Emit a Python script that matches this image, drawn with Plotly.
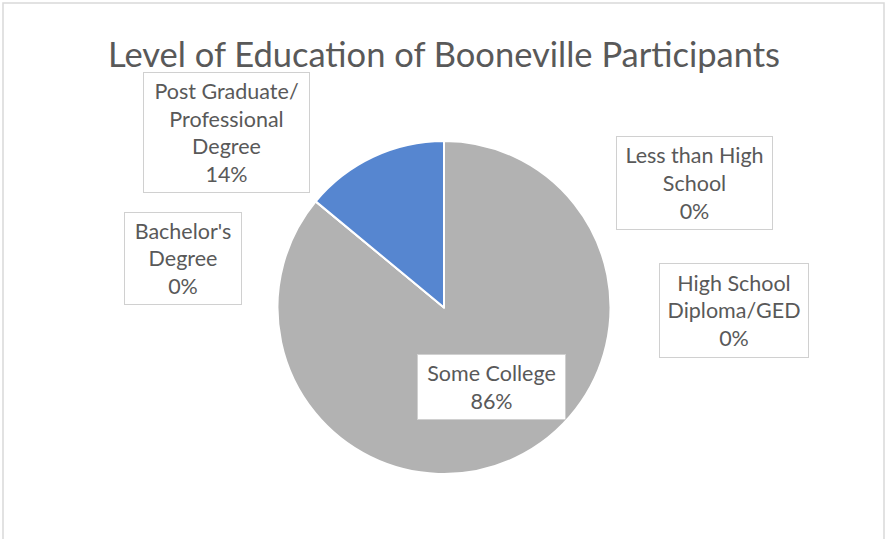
import plotly.graph_objects as go

# Education levels in clockwise order starting at 12 o'clock
categories = [
    "Less than High School",
    "High School Diploma/GED",
    "Some College",
    "Bachelor's Degree",
    "Post Graduate/Professional Degree",
]
shares = [0, 0, 86, 0, 14]
slice_colors = ["#4E7FCB", "#E07A36", "#B2B2B2", "#F2B935", "#5686D0"]

# Label text with manual line breaks for each category
label_lines = [
    "Less than High<br>School",
    "High School<br>Diploma/GED",
    "Some College",
    "Bachelor's<br>Degree",
    "Post Graduate/<br>Professional<br>Degree",
]

W, H = 888, 539
cx, cy, r = 444, 307.5, 166.5

fig = go.Figure(
    go.Pie(
        labels=categories,
        values=shares,
        sort=False,
        direction="clockwise",
        rotation=0,
        marker=dict(colors=slice_colors, line=dict(color="white", width=2)),
        textinfo="none",
        hoverinfo="label+percent",
        showlegend=False,
        domain=dict(
            x=[(cx - r) / W, (cx + r) / W],
            y=[(H - cy - r) / H, (H - cy + r) / H],
        ),
    )
)

# Label box placement (center x, center y, width, height) in pixels
box_layout = [
    (694.5, 183, 157, 94),
    (734, 310.5, 150, 95),
    (491.5, 387, 149, 66),
    (183, 258.5, 118, 93),
    (226.5, 132.5, 167, 121),
]

annotations = []
total = sum(shares)
for text, val, (bx, by, bw, bh) in zip(label_lines, shares, box_layout):
    pct = round(100 * val / total)
    annotations.append(
        dict(
            text=f"{text}<br>{pct}%",
            x=bx / W,
            y=1 - by / H,
            xref="paper",
            yref="paper",
            xanchor="center",
            yanchor="middle",
            showarrow=False,
            width=bw - 2,
            height=bh - 2,
            borderpad=0,
            bordercolor="#D0D0D0",
            borderwidth=1,
            bgcolor="white",
            font=dict(family="Lato", size=21.5, color="#595959"),
            align="center",
        )
    )

fig.update_layout(
    width=W,
    height=H,
    margin=dict(l=0, r=0, t=0, b=0),
    paper_bgcolor="white",
    plot_bgcolor="white",
    title=dict(
        text="Level of Education of Booneville Participants",
        x=0.5,
        xanchor="center",
        y=1 - 55 / H,
        yanchor="middle",
        font=dict(family="Lato", size=34.5, color="#595959"),
    ),
    annotations=annotations,
    shapes=[
        dict(
            type="rect",
            xref="paper",
            yref="paper",
            x0=3 / W,
            x1=884 / W,
            y0=-0.05,
            y1=1 - 3 / H,
            line=dict(color="#D9D9D9", width=1.5),
            fillcolor="rgba(0,0,0,0)",
            layer="below",
        )
    ],
)

fig.write_html("out.html")
